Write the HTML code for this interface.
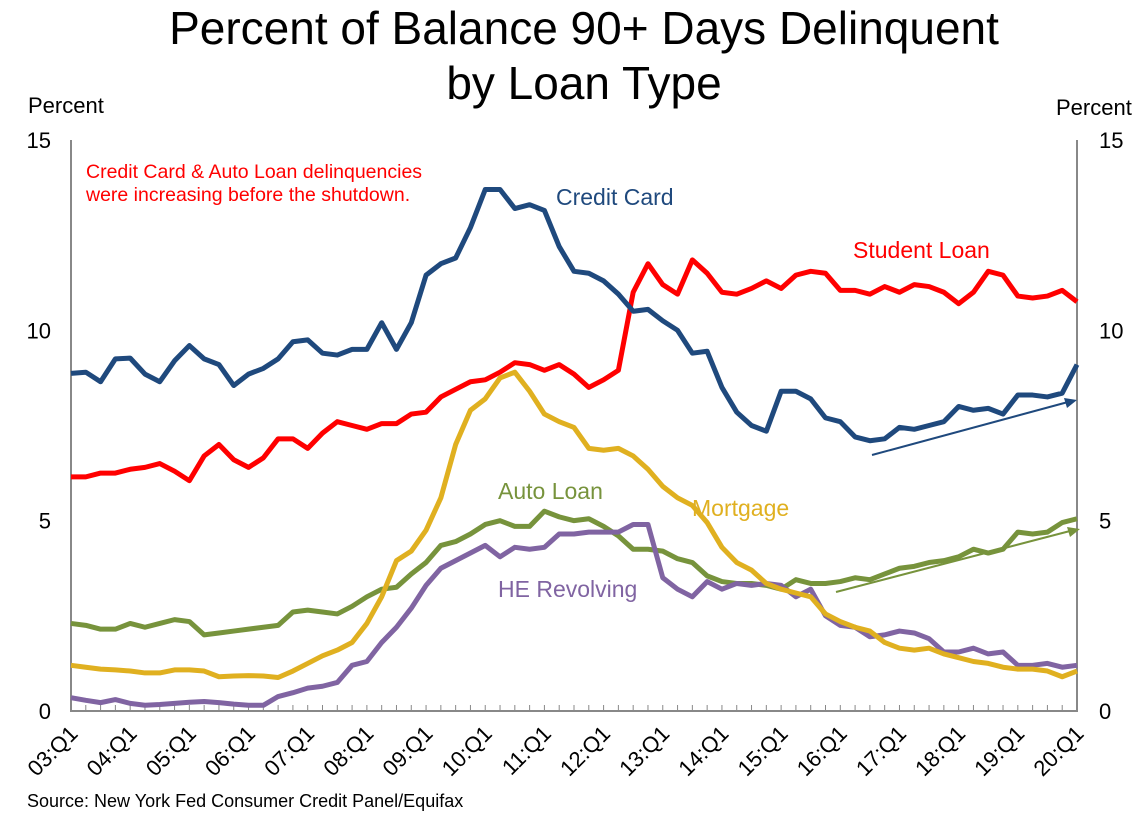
<!DOCTYPE html>
<html><head><meta charset="utf-8"><style>
body{margin:0;background:#fff;font-family:"Liberation Sans",sans-serif}
svg text{font-family:"Liberation Sans",sans-serif}
</style></head><body>
<svg id="c" width="1148" height="815" viewBox="0 0 1148 815">
<text x="584" y="44" font-size="46" text-anchor="middle">Percent of Balance 90+ Days Delinquent</text>
<text x="584" y="99" font-size="46" text-anchor="middle">by Loan Type</text>
<text x="28" y="113" font-size="22">Percent</text>
<text x="1056" y="115" font-size="22">Percent</text>
<text x="86" y="178" font-size="19.5" fill="#ff0000">Credit Card &amp; Auto Loan delinquencies</text>
<text x="86" y="201" font-size="19.5" fill="#ff0000">were increasing before the shutdown.</text>
<text x="27" y="807" font-size="18">Source: New York Fed Consumer Credit Panel/Equifax</text>
<g id="g"></g>
</svg>
<script>
const xLabels=["03:Q1","04:Q1","05:Q1","06:Q1","07:Q1","08:Q1","09:Q1","10:Q1","11:Q1","12:Q1","13:Q1","14:Q1","15:Q1","16:Q1","17:Q1","18:Q1","19:Q1","20:Q1"];
const yTicks=[0,5,10,15];
const creditCard=[8.87,8.9,8.65,9.25,9.27,8.85,8.65,9.2,9.6,9.25,9.1,8.55,8.85,9.0,9.25,9.7,9.75,9.4,9.35,9.5,9.5,10.2,9.5,10.2,11.45,11.75,11.9,12.7,13.7,13.7,13.2,13.3,13.15,12.2,11.55,11.5,11.3,10.95,10.5,10.55,10.25,10.0,9.4,9.45,8.5,7.85,7.5,7.35,8.4,8.4,8.2,7.7,7.6,7.2,7.1,7.15,7.45,7.4,7.5,7.6,8.0,7.9,7.95,7.8,8.3,8.3,8.25,8.35,9.1];
const studentLoan=[6.15,6.15,6.25,6.25,6.35,6.4,6.5,6.3,6.05,6.7,7.0,6.6,6.4,6.65,7.15,7.15,6.9,7.3,7.6,7.5,7.4,7.55,7.55,7.8,7.85,8.25,8.45,8.65,8.7,8.9,9.15,9.1,8.95,9.1,8.85,8.5,8.7,8.95,11.0,11.75,11.2,10.95,11.85,11.5,11.0,10.95,11.1,11.3,11.1,11.45,11.55,11.5,11.05,11.05,10.95,11.15,11.0,11.2,11.15,11.0,10.7,11.0,11.55,11.45,10.9,10.85,10.9,11.05,10.75];
const mortgage=[1.2,1.15,1.1,1.08,1.05,1.0,1.0,1.08,1.08,1.05,0.9,0.92,0.93,0.92,0.88,1.05,1.25,1.45,1.6,1.8,2.3,3.0,3.95,4.2,4.75,5.6,7.0,7.9,8.2,8.75,8.9,8.4,7.8,7.6,7.45,6.9,6.85,6.9,6.7,6.35,5.9,5.6,5.4,4.95,4.3,3.9,3.7,3.35,3.2,3.1,3.0,2.55,2.35,2.2,2.1,1.8,1.65,1.6,1.65,1.5,1.4,1.3,1.25,1.15,1.1,1.1,1.05,0.9,1.05];
const autoLoan=[2.3,2.25,2.15,2.15,2.3,2.2,2.3,2.4,2.35,2.0,2.05,2.1,2.15,2.2,2.25,2.6,2.65,2.6,2.55,2.75,3.0,3.2,3.25,3.6,3.9,4.35,4.45,4.65,4.9,5.0,4.85,4.85,5.25,5.1,5.0,5.05,4.85,4.6,4.25,4.25,4.2,4.0,3.9,3.55,3.4,3.35,3.35,3.3,3.2,3.45,3.35,3.35,3.4,3.5,3.45,3.6,3.75,3.8,3.9,3.95,4.05,4.25,4.15,4.25,4.7,4.65,4.7,4.95,5.05];
const heRevolving=[0.35,0.28,0.22,0.3,0.2,0.15,0.17,0.2,0.23,0.25,0.22,0.18,0.15,0.15,0.38,0.48,0.6,0.65,0.75,1.2,1.3,1.8,2.2,2.7,3.3,3.75,3.95,4.15,4.35,4.05,4.3,4.25,4.3,4.65,4.65,4.7,4.7,4.7,4.9,4.9,3.5,3.2,3.0,3.4,3.2,3.35,3.3,3.35,3.3,3.0,3.2,2.5,2.25,2.2,1.95,2.0,2.1,2.05,1.9,1.55,1.55,1.65,1.5,1.55,1.2,1.2,1.25,1.15,0.85,1.2].slice(0,68).concat([1.2]);
const X0=71,X1=1077,Y0=711,Y1=140,N=68;
const xs=i=>X0+(X1-X0)*i/N, ys=v=>Y0-(Y0-Y1)*v/15;
const NS="http://www.w3.org/2000/svg",g=document.getElementById('g');
function mk(t,a,txt){const e=document.createElementNS(NS,t);for(const k in a)e.setAttribute(k,a[k]);if(txt!=null)e.textContent=txt;g.appendChild(e);return e;}
let e;
e=mk('path',{d:`M${X0},${Y1}V${Y0}H${X1}V${Y1}`,fill:'none',stroke:'#888','stroke-width':2});


for(let i=0;i<=N;i++){e=mk('line',{x1:xs(i),x2:xs(i),y1:Y0,y2:Y0-6,stroke:'#888','stroke-width':1});

}
yTicks.forEach(v=>{
e=mk('text',{x:51,y:ys(v)+8,'font-size':22,'text-anchor':'end'},v);


e=mk('text',{x:1099,y:ys(v)+8,'font-size':22},v);


});
xLabels.forEach((l,k)=>{const x=xs(k*4)+8,y=Y0+24;
e=mk('text',{x:x,y:y,'font-size':22,'text-anchor':'end',transform:`rotate(-45 ${x} ${y})`},l);

});
const series=[[autoLoan,'#77933c','auto-loan-line'],[heRevolving,'#8064a2','he-revolving-line'],[mortgage,'#e0b020','mortgage-line'],[studentLoan,'#ff0000','student-loan-line'],[creditCard,'#1f497d','credit-card-line']];
series.forEach(([d,c,n])=>{
e=mk('polyline',{points:d.map((v,i)=>xs(i)+','+ys(v)).join(' '),fill:'none',stroke:c,'stroke-width':5,'stroke-linejoin':'round'});

});
[["Credit Card",556,205,'#1f497d'],["Student Loan",853,258,'#ff0000'],["Auto Loan",498,499,'#77933c'],["Mortgage",692,516,'#e0b020'],["HE Revolving",498,597,'#8064a2']].forEach(([t,x,y,c])=>{
e=mk('text',{x:x,y:y,'font-size':23,fill:c},t);

});
e=mk('line',{x1:872,y1:455,x2:1068,y2:402,stroke:'#1f497d','stroke-width':2});


e=mk('polygon',{points:'1077,400 1064,398 1067,408',fill:'#1f497d'});


e=mk('line',{x1:836,y1:592,x2:1070,y2:531,stroke:'#77933c','stroke-width':2});


e=mk('polygon',{points:'1080,529 1067,527 1070,537',fill:'#77933c'});


</script>
</body></html>
